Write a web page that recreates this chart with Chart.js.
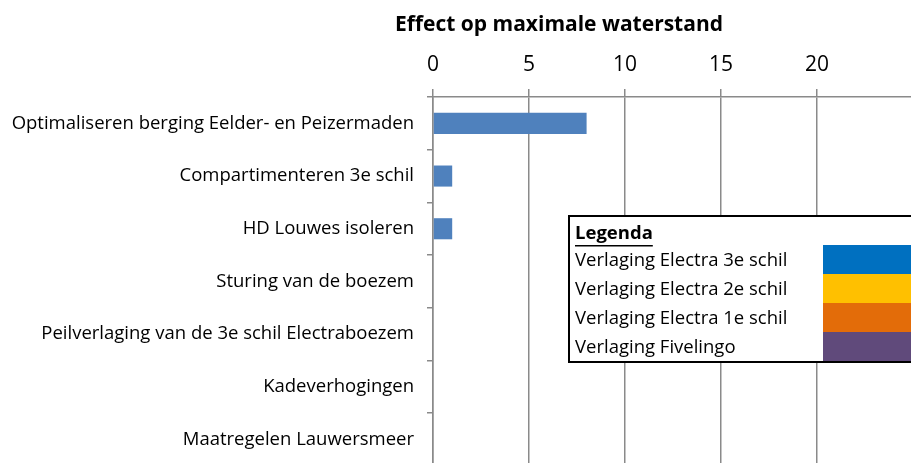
<!DOCTYPE html>
<html>
<head>
<meta charset="utf-8">
<script src="https://cdn.jsdelivr.net/npm/chart.js@4/dist/chart.umd.min.js"></script>
<style>
  body { margin: 0; background: #fff; }
  #wrap { width: 911px; height: 463px; overflow: hidden; position: relative; }
</style>
</head>
<body>
<div id="wrap"><canvas id="myChart" width="940" height="490"></canvas></div>
<script>
var categories = [
    'Optimaliseren berging Eelder- en Peizermaden',
    'Compartimenteren 3e schil',
    'HD Louwes isoleren',
    'Sturing van de boezem',
    'Peilverlaging van de 3e schil Electraboezem',
    'Kadeverhogingen',
    'Maatregelen Lauwersmeer'
];
var effectValues = [8, 1, 1, 0, 0, 0, 0];
var tickLabels = [0, 5, 10, 15, 20];
var legendTitle = 'Legenda';
var legendLabels = [
    'Verlaging Electra 3e schil',
    'Verlaging Electra 2e schil',
    'Verlaging Electra 1e schil',
    'Verlaging Fivelingo'
];
var legendColors = ['#0070C0', '#FFC000', '#E36C09', '#604A7B'];

var FONT = '"Open Sans", Calibri, "Liberation Sans", sans-serif';
var GRID = '#8a8a8a';

// title is drawn off-center like the original, so done by hand
var titlePlugin = {
    id: 'titlePlugin',
    afterDraw: function (chart) {
        var ctx = chart.ctx;
        ctx.save();
        ctx.font = 'bold 21px ' + FONT;
        ctx.fillStyle = '#000';
        ctx.textAlign = 'center';
        ctx.textBaseline = 'middle';
        ctx.fillText('Effect op maximale waterstand', 559, 25);
        ctx.restore();
    }
};

// boxed legend with colour swatches on the right
var legendBox = {
    id: 'legendBox',
    afterDraw: function (chart) {
        var ctx = chart.ctx;
        var x = 569, y = 216, w = 400, rowH = 29;
        var h = 30 + legendLabels.length * rowH;
        ctx.save();
        ctx.fillStyle = '#fff';
        ctx.fillRect(x, y, w, h);
        for (var i = 0; i < legendLabels.length; i++) {
            ctx.fillStyle = legendColors[i];
            ctx.fillRect(823, y + 29 + i * rowH, 200, rowH);
        }
        ctx.strokeStyle = '#000';
        ctx.lineWidth = 2;
        ctx.strokeRect(x, y, w, h);

        ctx.fillStyle = '#000';
        ctx.textAlign = 'left';
        ctx.textBaseline = 'middle';
        ctx.font = 'bold 18.5px ' + FONT;
        ctx.fillText(legendTitle, 575, y + 18);
        var tw = ctx.measureText(legendTitle).width;
        ctx.fillRect(575, y + 29, tw, 1.5);

        ctx.font = '18.5px ' + FONT;
        for (var i = 0; i < legendLabels.length; i++) {
            ctx.fillText(legendLabels[i], 575, y + 30 + i * rowH + rowH / 2);
        }
        ctx.restore();
    }
};

window.onload = function () {
    var ctx = document.getElementById('myChart').getContext('2d');
    var myChart = new Chart(ctx, {
        type: 'bar',
        data: {
            labels: categories,
            datasets: [{
                data: effectValues,
                backgroundColor: '#4F81BD',
                borderWidth: 0,
                barPercentage: 0.4,
                categoryPercentage: 1
            }]
        },
        options: {
            indexAxis: 'y',
            responsive: false,
            animation: false,
            layout: {
                padding: { left: 0, top: 40, right: 27, bottom: 18 }
            },
            plugins: {
                legend: { display: false },
                tooltip: { enabled: false }
            },
            scales: {
                x: {
                    position: 'top',
                    min: 0,
                    max: 25,
                    afterFit: function (scale) { scale.height = 57; },
                    ticks: {
                        stepSize: 5,
                        padding: 11,
                        color: '#000',
                        font: { family: FONT, size: 21 },
                        callback: function (v) {
                            return tickLabels.indexOf(v) >= 0 ? String(v) : '';
                        }
                    },
                    grid: {
                        color: GRID,
                        lineWidth: 1.5,
                        tickLength: 8,
                        tickColor: GRID
                    },
                    border: { color: GRID, width: 1.5 }
                },
                y: {
                    z: 1,
                    afterFit: function (scale) { scale.width = 433; },
                    ticks: {
                        padding: 13,
                        color: '#000',
                        font: { family: FONT, size: 18.5 }
                    },
                    grid: {
                        drawOnChartArea: false,
                        tickLength: 6,
                        tickColor: GRID,
                        lineWidth: 1.5
                    },
                    border: { color: GRID, width: 1.5 }
                }
            }
        },
        plugins: [titlePlugin, legendBox]
    });
};
</script>
</body>
</html>
